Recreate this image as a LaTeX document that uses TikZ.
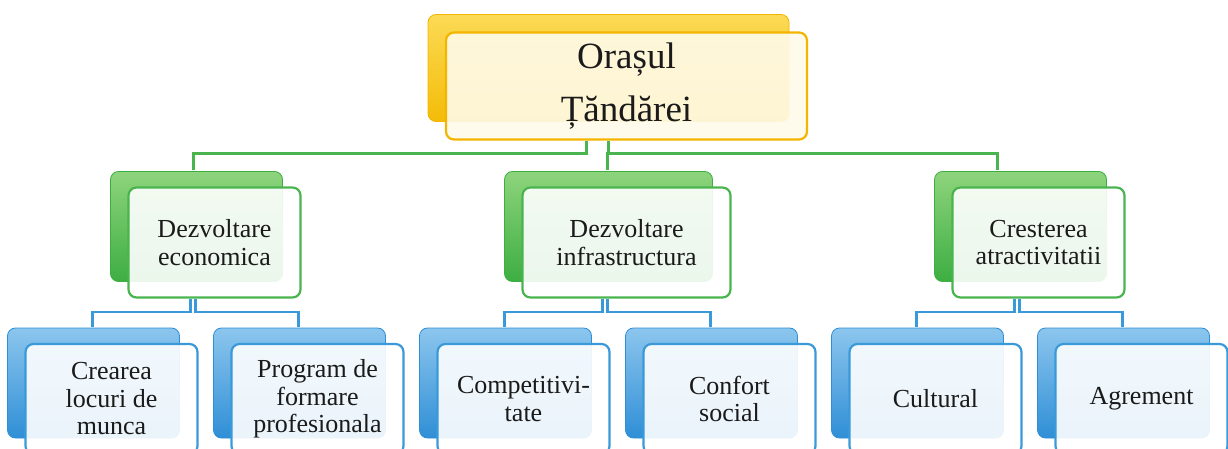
\documentclass[tikz,border=0pt]{standalone}
\usepackage{fontspec}
\setmainfont{Liberation Serif}
\usetikzlibrary{shadows}

\definecolor{goldtab}{HTML}{F4BC08}
\definecolor{goldhi}{HTML}{FBDA55}
\definecolor{goldline}{HTML}{F4B400}
\definecolor{cream}{HTML}{FFFBEA}
\definecolor{greentab}{HTML}{3DAE42}
\definecolor{greenhi}{HTML}{8ED47C}
\definecolor{greenline}{HTML}{4AB44F}
\definecolor{bluetab}{HTML}{2F8FD6}
\definecolor{bluehi}{HTML}{8CC6EE}
\definecolor{blueline}{HTML}{3A9AD9}
\definecolor{txt}{HTML}{1A1A1A}

\begin{document}
\begin{tikzpicture}[
            x=1pt, y=1pt,
            pshift/.store in=\pshift, pshift=-19pt,
            cshift/.store in=\cshift, cshift=-19pt,
            level distance=156.5pt,
            level 1/.style={sibling distance=412pt, pshift=-19pt, cshift=-19pt, edge from parent/.style={draw=greenline, line width=2.2pt}},
            level 2/.style={sibling distance=206pt, pshift=-19pt, cshift=-19pt, edge from parent/.style={draw=blueline, line width=2.2pt}},
            edge from parent path={([xshift=\pshift]\tikzparentnode.south) -- ++(0,-13) -| ([xshift=\cshift,yshift=16pt]\tikzchildnode.north)},
            box/.style={rectangle, rounded corners=8pt, line width=2.2pt, fill=white, fill opacity=0.9, text opacity=1, text=txt,
              align=center, minimum width=172pt, minimum height=110pt, inner sep=2pt, font=\fontsize{26}{27.5}\selectfont},
            topbox/.style={box, draw=goldline, fill=cream, minimum width=361pt, minimum height=107pt, font=\fontsize{37}{53}\selectfont,
              copy shadow={shadow xshift=-18pt, shadow yshift=18pt, draw=goldline, line width=0.8pt, fill opacity=1, top color=goldhi, middle color=goldtab, bottom color=goldtab}},
            greenbox/.style={box, draw=greenline,
              copy shadow={shadow xshift=-18pt, shadow yshift=16pt, draw=greentab, line width=0.8pt, fill opacity=1, top color=greenhi, middle color=greentab, bottom color=greentab}},
            bluebox/.style={box, draw=blueline,
              copy shadow={shadow xshift=-18pt, shadow yshift=16pt, draw=bluetab, line width=0.8pt, fill opacity=1, top color=bluehi, middle color=bluetab, bottom color=bluetab}}
        ]
          \useasboundingbox (0,0) rectangle (1228,-449);
          \node (oras) at (626.5,-86) [topbox] {Orașul\\Țăndărei}
            child[pshift=-40pt, cshift=-21pt] {node (eco) [greenbox] {Dezvoltare\\economica}
              child[pshift=-24pt] {node (locuri) [bluebox] {Crearea\\locuri de\\munca}}
              child {node (formare) [bluebox] {Program de\\formare\\profesionala}}}
            child[pshift=-18pt] {node (infra) [greenbox, minimum width=208pt] {Dezvoltare\\infrastructura}
              child[pshift=-24pt] {node (compet) [bluebox] {Competitivi-\\tate}}
              child {node (confort) [bluebox] {Confort\\social}}}
            child[pshift=-18pt, cshift=-41pt] {node (atract) [greenbox] {Cresterea\\atractivitatii}
              child[pshift=-24pt] {node (cultural) [bluebox] {Cultural}}
              child {node (agrement) [bluebox] {Agrement}}};
        \end{tikzpicture}
\end{document}
